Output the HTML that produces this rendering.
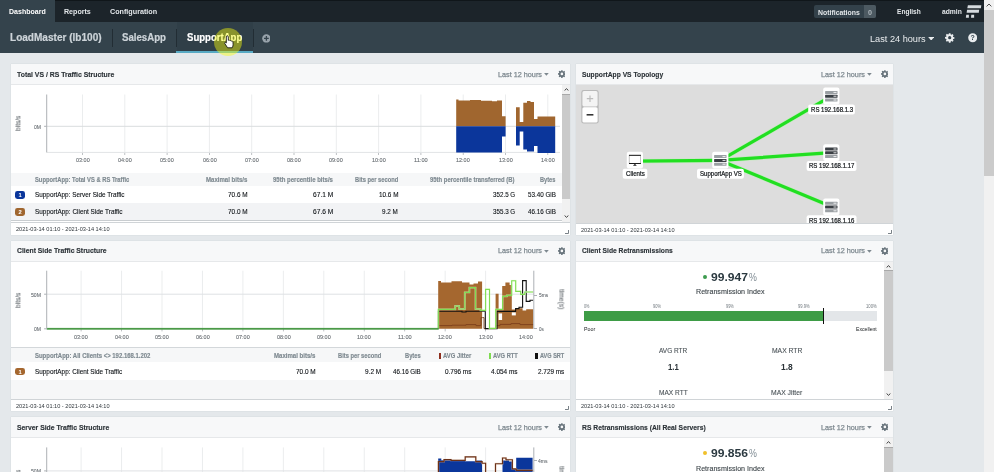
<!DOCTYPE html>
<html lang="en">
<head>
<meta charset="utf-8">
<title>SupportApp - Dashboard</title>
<style>
*{box-sizing:border-box;margin:0;padding:0}
html,body{width:994px;height:472px;overflow:hidden;background:#e4e8eb;font-family:"Liberation Sans",sans-serif;color:#2c3338}
body{position:relative}
.a{position:absolute;display:block}
.t{position:absolute;white-space:nowrap;line-height:1;display:block;filter:blur(.3px)}
.panel{position:absolute;background:#fff;overflow:hidden;box-shadow:0 0 1px rgba(60,70,80,.18)}
</style>
</head>
<body>
<div class="a" style="left:0.00px;top:0.00px;width:984.00px;height:22.00px;background:#1c242a;"></div>
<div class="a" style="left:0.00px;top:0.00px;width:984.00px;height:0.80px;background:#10161a;"></div>
<div class="a" style="left:0.00px;top:0.00px;width:55.00px;height:22.00px;background:#34434c;"></div>
<span class="t" style="left:8.70px;top:8.00px;font-size:7.80px;color:#ffffff;font-weight:bold;transform-origin:0 50%;transform:scaleX(0.9008);">Dashboard</span>
<span class="t" style="left:64.40px;top:8.00px;font-size:7.80px;color:#e3e7ea;font-weight:bold;transform-origin:0 50%;transform:scaleX(0.9093);">Reports</span>
<span class="t" style="left:110.30px;top:8.00px;font-size:7.80px;color:#e3e7ea;font-weight:bold;transform-origin:0 50%;transform:scaleX(0.9213);">Configuration</span>
<div class="a" style="left:813.50px;top:5.00px;width:62.50px;height:12.80px;background:#33414a;border-radius:2px"></div>
<div class="a" style="left:864.00px;top:5.00px;width:12.00px;height:12.80px;background:#4c5961;border-radius:0 2px 2px 0"></div>
<span class="t" style="left:817.70px;top:9.00px;font-size:7.80px;color:#e3e7ea;font-weight:bold;transform-origin:0 50%;transform:scaleX(0.8849);">Notifications</span>
<span class="t" style="left:867.80px;top:9.00px;font-size:7.80px;color:#aeb7bd;font-weight:bold;transform-origin:0 50%;transform:scaleX(0.9221);">0</span>
<span class="t" style="left:896.80px;top:8.00px;font-size:7.80px;color:#e3e7ea;font-weight:bold;transform-origin:0 50%;transform:scaleX(0.8414);">English</span>
<span class="t" style="left:941.50px;top:8.00px;font-size:7.80px;color:#e3e7ea;font-weight:bold;transform-origin:0 50%;transform:scaleX(0.8620);">admin</span>
<svg class="a" style="left:965px;top:4px" width="17" height="15" viewBox="965 4 17 15"><g fill="#d6dbdf"><path d="M967.9 5.2H981.3L980.9 8.2H967.3Z"/><path d="M967.1 9.7H979.2L978.8 12.7H966.6Z"/><path d="M966.2 14.7H968.9V17.7H965.9Z"/><path d="M971.3 14.7H974.1V17.7H971Z"/></g></svg>
<div class="a" style="left:0.00px;top:22.00px;width:984.00px;height:31.00px;background:#34434c;"></div>
<div class="a" style="left:177.00px;top:22.00px;width:76.00px;height:31.00px;background:#303f48;"></div>
<span class="t" style="left:10.10px;top:33.00px;font-size:10.30px;color:#cdd4d9;font-weight:bold;transform-origin:0 50%;transform:scaleX(0.9758);-webkit-text-stroke:0.2px #cdd4d9;">LoadMaster (lb100)</span>
<div class="a" style="left:112.00px;top:29.00px;width:1.00px;height:18.00px;background:#222d34;"></div>
<span class="t" style="left:122.30px;top:33.00px;font-size:10.30px;color:#cdd4d9;font-weight:bold;transform-origin:0 50%;transform:scaleX(0.9374);-webkit-text-stroke:0.2px #cdd4d9;">SalesApp</span>
<div class="a" style="left:176.40px;top:29.00px;width:1.00px;height:18.00px;background:#222d34;"></div>
<span class="t" style="left:187.10px;top:33.00px;font-size:10.30px;color:#ffffff;font-weight:bold;transform-origin:0 50%;transform:scaleX(0.9294);-webkit-text-stroke:0.2px #ffffff;">SupportApp</span>
<div class="a" style="left:176.40px;top:50.80px;width:76.60px;height:2.20px;background:#58aac4;"></div>
<div class="a" style="left:253.00px;top:29.00px;width:1.00px;height:18.00px;background:#222d34;"></div>
<svg class="a" style="left:261.6px;top:34.1px" width="8.8" height="8.8" viewBox="0 0 10 10"><circle cx="5" cy="5" r="4.8" fill="#98a3ab"/><path d="M5 2.3v5.4M2.3 5h5.4" stroke="#34434c" stroke-width="1.5"/></svg>
<span class="t" style="left:869.70px;top:34.00px;font-size:9.60px;color:#e9ecee;transform-origin:0 50%;transform:scaleX(0.9558);">Last 24 hours</span>
<svg class="a" style="left:928.00px;top:36.80px" width="6.40" height="3.60" viewBox="0 0 10 6"><path d="M0 0h10L5 6z" fill="#e9ecee"/></svg>
<svg class="a" style="left:945.20px;top:33.40px" width="9.40" height="9.40" viewBox="0 0 20 20"><path fill="#e9ecee" fill-rule="evenodd" d="M8.3 0.5h3.4l0.5 2.6 1.5 0.6 2.2-1.5 2.4 2.4-1.5 2.2 0.6 1.5 2.6 0.5v3.4l-2.6 0.5-0.6 1.5 1.5 2.2-2.4 2.4-2.2-1.5-1.5 0.6-0.5 2.6H8.3l-0.5-2.6-1.5-0.6-2.2 1.5-2.4-2.4 1.5-2.2-0.6-1.5L0 11.7V8.3l2.6-0.5 0.6-1.5-1.5-2.2 2.4-2.4 2.2 1.5 1.5-0.6zM10 6.6a3.4 3.4 0 1 0 0 6.8 3.4 3.4 0 0 0 0-6.8z"/></svg>
<svg class="a" style="left:967.8px;top:33.2px" width="9.4" height="9.4" viewBox="0 0 20 20"><circle cx="10" cy="10" r="9.6" fill="#e9ecee"/><text x="10" y="15.4" text-anchor="middle" font-family="Liberation Sans, sans-serif" font-weight="bold" font-size="15" fill="#34434c">?</text></svg>
<div class="a" style="left:214px;top:27.8px;width:28.4px;height:28.4px;border-radius:50%;background:rgba(250,255,10,.44);filter:blur(0.4px)"></div>
<svg class="a" style="left:224.3px;top:34.9px" width="10" height="13.7" viewBox="0 0 19 26"><path d="M6.2 1.5 C7.4 1.5 8.2 2.4 8.2 3.6 L8.2 10 L9.4 9.7 C10.4 9.5 11.2 9.9 11.6 10.7 C12.6 10.2 13.7 10.6 14.2 11.5 C15.5 11.1 16.8 11.9 17 13.4 L17.3 17.6 C17.4 20 16.8 22.3 15.5 24.3 L6.8 24.3 C4.9 21.4 3.2 18.7 1.5 16.1 C0.7 14.8 2.1 13.4 3.5 14.3 L4.4 15 L4.4 3.6 C4.4 2.4 5 1.5 6.2 1.5 Z" fill="#fff" stroke="#111" stroke-width="1.6" stroke-linejoin="round"/></svg>
<div class="a" style="left:984.00px;top:0.00px;width:10.00px;height:472.00px;background:#f1f1f1;"></div>
<div class="a" style="left:984.00px;top:10.00px;width:10.00px;height:165.50px;background:#cbcbcb;"></div>
<svg class="a" style="left:986px;top:3px" width="6" height="4" viewBox="0 0 6 4"><path d="M0.6 3.4L3 1L5.4 3.4" fill="none" stroke="#505050" stroke-width="1"/></svg>
<div class="panel" style="left:11px;top:64px;width:559px;height:171px"></div>
<div class="a" style="left:11.00px;top:64.00px;width:559.00px;height:21.00px;background:#f7f8f9;border-bottom:1px solid #e6e8ea"></div>
<span class="t" style="left:17.40px;top:71.00px;font-size:7.70px;color:#2c3338;font-weight:bold;transform-origin:0 50%;transform:scaleX(0.8939);-webkit-text-stroke:0.15px #2c3338;">Total VS / RS Traffic Structure</span>
<span class="t" style="left:497.60px;top:71.00px;font-size:7.70px;color:#7d888f;transform-origin:0 50%;transform:scaleX(0.9430);-webkit-text-stroke:0.25px #7d888f;">Last 12 hours</span>
<svg class="a" style="left:544.00px;top:73.00px" width="4.80" height="2.80" viewBox="0 0 10 6"><path d="M0 0h10L5 6z" fill="#7d888f"/></svg>
<svg class="a" style="left:557.60px;top:70.20px" width="7.80" height="7.80" viewBox="0 0 20 20"><path fill="#67737b" fill-rule="evenodd" d="M8.3 0.5h3.4l0.5 2.6 1.5 0.6 2.2-1.5 2.4 2.4-1.5 2.2 0.6 1.5 2.6 0.5v3.4l-2.6 0.5-0.6 1.5 1.5 2.2-2.4 2.4-2.2-1.5-1.5 0.6-0.5 2.6H8.3l-0.5-2.6-1.5-0.6-2.2 1.5-2.4-2.4 1.5-2.2-0.6-1.5L0 11.7V8.3l2.6-0.5 0.6-1.5-1.5-2.2 2.4-2.4 2.2 1.5 1.5-0.6zM10 6.6a3.4 3.4 0 1 0 0 6.8 3.4 3.4 0 0 0 0-6.8z"/></svg>
<svg class="a" style="left:11.00px;top:85.00px" width="551" height="88" viewBox="11.00 85.00 551 88">
<rect x="82.00" y="94.50" width="1.00" height="57.90" fill="#ebedee"/>
<rect x="82.10" y="152.40" width="0.80" height="2.60" fill="#adb1b5"/>
<rect x="124.30" y="94.50" width="1.00" height="57.90" fill="#ebedee"/>
<rect x="124.40" y="152.40" width="0.80" height="2.60" fill="#adb1b5"/>
<rect x="166.60" y="94.50" width="1.00" height="57.90" fill="#ebedee"/>
<rect x="166.70" y="152.40" width="0.80" height="2.60" fill="#adb1b5"/>
<rect x="208.90" y="94.50" width="1.00" height="57.90" fill="#ebedee"/>
<rect x="209.00" y="152.40" width="0.80" height="2.60" fill="#adb1b5"/>
<rect x="251.20" y="94.50" width="1.00" height="57.90" fill="#ebedee"/>
<rect x="251.30" y="152.40" width="0.80" height="2.60" fill="#adb1b5"/>
<rect x="293.50" y="94.50" width="1.00" height="57.90" fill="#ebedee"/>
<rect x="293.60" y="152.40" width="0.80" height="2.60" fill="#adb1b5"/>
<rect x="335.80" y="94.50" width="1.00" height="57.90" fill="#ebedee"/>
<rect x="335.90" y="152.40" width="0.80" height="2.60" fill="#adb1b5"/>
<rect x="378.10" y="94.50" width="1.00" height="57.90" fill="#ebedee"/>
<rect x="378.20" y="152.40" width="0.80" height="2.60" fill="#adb1b5"/>
<rect x="420.40" y="94.50" width="1.00" height="57.90" fill="#ebedee"/>
<rect x="420.50" y="152.40" width="0.80" height="2.60" fill="#adb1b5"/>
<rect x="462.70" y="94.50" width="1.00" height="57.90" fill="#ebedee"/>
<rect x="462.80" y="152.40" width="0.80" height="2.60" fill="#adb1b5"/>
<rect x="505.00" y="94.50" width="1.00" height="57.90" fill="#ebedee"/>
<rect x="505.10" y="152.40" width="0.80" height="2.60" fill="#adb1b5"/>
<rect x="547.30" y="94.50" width="1.00" height="57.90" fill="#ebedee"/>
<rect x="547.40" y="152.40" width="0.80" height="2.60" fill="#adb1b5"/>
<rect x="46.70" y="125.80" width="513.30" height="1.00" fill="#d9dcde"/>
<rect x="46.70" y="151.90" width="513.30" height="1.00" fill="#e2e4e6"/>
<polygon points="456.2,126.3 456.2,99.6 458.5,99.6 458.5,100.4 470.0,100.4 470.0,100.0 481.0,100.0 481.0,100.8 492.0,100.8 492.0,101.2 497.0,101.2 497.0,100.4 502.0,100.4 502.0,116.2 505.6,116.2 505.6,126.3 516.0,126.3 516.0,107.3 519.7,107.3 519.7,122.0 523.3,122.0 523.3,102.8 527.0,102.8 527.0,101.0 530.5,101.0 530.5,102.0 534.0,102.0 534.0,119.0 537.5,119.0 537.5,116.6 555.2,116.6 555.2,126.3" fill="#a0662f" />
<polygon points="456.2,126.3 456.2,152.6 502.0,152.6 502.0,136.4 505.6,136.4 505.6,126.3 516.0,126.3 516.0,145.6 519.7,145.6 519.7,131.6 523.3,131.6 523.3,149.5 527.0,149.5 527.0,151.5 534.0,151.5 534.0,146.0 537.5,146.0 537.5,153.0 555.2,153.0 555.2,126.3" fill="#0b369b" />
<rect x="46.20" y="94.50" width="1.00" height="57.90" fill="#adb1b5"/>
<rect x="44.10" y="125.80" width="2.60" height="1.00" fill="#adb1b5"/>
</svg>
<span class="t" style="left:34.20px;top:125.00px;font-size:5.90px;color:#666c71;transform-origin:0 50%;transform:scaleX(0.8540);-webkit-text-stroke:0.1px #666c71;">0M</span>
<span class="t" style="left:11.30px;top:120.00px;font-size:6.60px;color:#666c71;transform-origin:50% 50%;transform:rotate(-90deg);-webkit-text-stroke:0.1px #666c71;">bits/s</span>
<span class="t" style="left:75.65px;top:158.00px;font-size:5.90px;color:#666c71;transform-origin:0 50%;transform:scaleX(0.9279);-webkit-text-stroke:0.1px #666c71;">03:00</span>
<span class="t" style="left:117.95px;top:158.00px;font-size:5.90px;color:#666c71;transform-origin:0 50%;transform:scaleX(0.9279);-webkit-text-stroke:0.1px #666c71;">04:00</span>
<span class="t" style="left:160.25px;top:158.00px;font-size:5.90px;color:#666c71;transform-origin:0 50%;transform:scaleX(0.9279);-webkit-text-stroke:0.1px #666c71;">05:00</span>
<span class="t" style="left:202.55px;top:158.00px;font-size:5.90px;color:#666c71;transform-origin:0 50%;transform:scaleX(0.9279);-webkit-text-stroke:0.1px #666c71;">06:00</span>
<span class="t" style="left:244.85px;top:158.00px;font-size:5.90px;color:#666c71;transform-origin:0 50%;transform:scaleX(0.9279);-webkit-text-stroke:0.1px #666c71;">07:00</span>
<span class="t" style="left:287.15px;top:158.00px;font-size:5.90px;color:#666c71;transform-origin:0 50%;transform:scaleX(0.9279);-webkit-text-stroke:0.1px #666c71;">08:00</span>
<span class="t" style="left:329.45px;top:158.00px;font-size:5.90px;color:#666c71;transform-origin:0 50%;transform:scaleX(0.9279);-webkit-text-stroke:0.1px #666c71;">09:00</span>
<span class="t" style="left:371.75px;top:158.00px;font-size:5.90px;color:#666c71;transform-origin:0 50%;transform:scaleX(0.9279);-webkit-text-stroke:0.1px #666c71;">10:00</span>
<span class="t" style="left:414.05px;top:158.00px;font-size:5.90px;color:#666c71;transform-origin:0 50%;transform:scaleX(0.9562);-webkit-text-stroke:0.1px #666c71;">11:00</span>
<span class="t" style="left:456.35px;top:158.00px;font-size:5.90px;color:#666c71;transform-origin:0 50%;transform:scaleX(0.9279);-webkit-text-stroke:0.1px #666c71;">12:00</span>
<span class="t" style="left:498.65px;top:158.00px;font-size:5.90px;color:#666c71;transform-origin:0 50%;transform:scaleX(0.9279);-webkit-text-stroke:0.1px #666c71;">13:00</span>
<span class="t" style="left:540.95px;top:158.00px;font-size:5.90px;color:#666c71;transform-origin:0 50%;transform:scaleX(0.9279);-webkit-text-stroke:0.1px #666c71;">14:00</span>
<div class="a" style="left:11.00px;top:173.00px;width:551.00px;height:13.00px;background:#f6f7f8;"></div>
<span class="t" style="left:34.60px;top:176.00px;font-size:7.00px;color:#7f8a91;font-weight:bold;transform-origin:0 50%;transform:scaleX(0.8285);-webkit-text-stroke:0.18px #7f8a91;">SupportApp: Total VS &amp; RS Traffic</span>
<span class="t" style="left:206.10px;top:176.00px;font-size:7.00px;color:#7f8a91;font-weight:bold;transform-origin:0 50%;transform:scaleX(0.8631);-webkit-text-stroke:0.18px #7f8a91;">Maximal bits/s</span>
<span class="t" style="left:273.10px;top:176.00px;font-size:7.00px;color:#7f8a91;font-weight:bold;transform-origin:0 50%;transform:scaleX(0.8602);-webkit-text-stroke:0.18px #7f8a91;">95th percentile bits/s</span>
<span class="t" style="left:355.00px;top:176.00px;font-size:7.00px;color:#7f8a91;font-weight:bold;transform-origin:0 50%;transform:scaleX(0.8226);-webkit-text-stroke:0.18px #7f8a91;">Bits per second</span>
<span class="t" style="left:430.30px;top:176.00px;font-size:7.00px;color:#7f8a91;font-weight:bold;transform-origin:0 50%;transform:scaleX(0.8462);-webkit-text-stroke:0.18px #7f8a91;">95th percentile transferred (B)</span>
<span class="t" style="left:540.40px;top:176.00px;font-size:7.00px;color:#7f8a91;font-weight:bold;transform-origin:0 50%;transform:scaleX(0.8077);-webkit-text-stroke:0.18px #7f8a91;">Bytes</span>
<div class="a" style="left:11.00px;top:186.00px;width:551.00px;height:17.00px;background:#ffffff;"></div>
<div class="a" style="left:11.00px;top:203.00px;width:551.00px;height:17.00px;background:#f2f3f5;"></div>
<div class="a" style="left:15.10px;top:190.70px;width:10.20px;height:8.20px;background:#0b369b;border-radius:2.4px"></div>
<span class="t" style="left:18.59px;top:193.00px;font-size:5.80px;color:#ffffff;font-weight:bold;">1</span>
<div class="a" style="left:15.10px;top:207.70px;width:10.20px;height:8.20px;background:#a0662f;border-radius:2.4px"></div>
<span class="t" style="left:18.59px;top:210.00px;font-size:5.80px;color:#ffffff;font-weight:bold;">2</span>
<span class="t" style="left:34.60px;top:192.00px;font-size:7.10px;color:#101418;transform-origin:0 50%;transform:scaleX(0.8985);-webkit-text-stroke:0.12px #101418;">SupportApp: Server Side Traffic</span>
<span class="t" style="left:34.60px;top:209.00px;font-size:7.10px;color:#101418;transform-origin:0 50%;transform:scaleX(0.9035);-webkit-text-stroke:0.12px #101418;">SupportApp: Client Side Traffic</span>
<span class="t" style="left:227.80px;top:192.00px;font-size:7.10px;color:#101418;transform-origin:0 50%;transform:scaleX(0.9030);-webkit-text-stroke:0.12px #101418;">70.6 M</span>
<span class="t" style="left:312.70px;top:192.00px;font-size:7.10px;color:#101418;transform-origin:0 50%;transform:scaleX(0.9352);-webkit-text-stroke:0.12px #101418;">67.1 M</span>
<span class="t" style="left:378.70px;top:192.00px;font-size:7.10px;color:#101418;transform-origin:0 50%;transform:scaleX(0.8984);-webkit-text-stroke:0.12px #101418;">10.6 M</span>
<span class="t" style="left:492.70px;top:192.00px;font-size:7.10px;color:#101418;transform-origin:0 50%;transform:scaleX(0.8788);-webkit-text-stroke:0.12px #101418;">352.5 G</span>
<span class="t" style="left:527.90px;top:192.00px;font-size:7.10px;color:#101418;transform-origin:0 50%;transform:scaleX(0.8836);-webkit-text-stroke:0.12px #101418;">53.40 GiB</span>
<span class="t" style="left:227.80px;top:209.00px;font-size:7.10px;color:#101418;transform-origin:0 50%;transform:scaleX(0.9030);-webkit-text-stroke:0.12px #101418;">70.0 M</span>
<span class="t" style="left:312.70px;top:209.00px;font-size:7.10px;color:#101418;transform-origin:0 50%;transform:scaleX(0.9352);-webkit-text-stroke:0.12px #101418;">67.6 M</span>
<span class="t" style="left:382.40px;top:209.00px;font-size:7.10px;color:#101418;transform-origin:0 50%;transform:scaleX(0.8898);-webkit-text-stroke:0.12px #101418;">9.2 M</span>
<span class="t" style="left:492.70px;top:209.00px;font-size:7.10px;color:#101418;transform-origin:0 50%;transform:scaleX(0.8788);-webkit-text-stroke:0.12px #101418;">355.3 G</span>
<span class="t" style="left:527.90px;top:209.00px;font-size:7.10px;color:#101418;transform-origin:0 50%;transform:scaleX(0.8836);-webkit-text-stroke:0.12px #101418;">46.16 GiB</span>
<div class="a" style="left:11.00px;top:219.60px;width:559.00px;height:1.00px;background:#c9cdd0;"></div>
<div class="a" style="left:562.00px;top:85.00px;width:8.00px;height:136.50px;background:#f1f1f1;"></div>
<div class="a" style="left:562.00px;top:93.50px;width:8.00px;height:105.50px;background:#cacaca;"></div>
<div class="a" style="left:562.00px;top:93.50px;width:8.00px;height:0.70px;background:#a9a9a9;"></div>
<svg class="a" style="left:563.5px;top:88.2px" width="5" height="3" viewBox="0 0 5 3"><path d="M0.6 2.5L2.5 0.7L4.4 2.5" fill="none" stroke="#3c3c3c" stroke-width="1"/></svg>
<svg class="a" style="left:563.5px;top:215.3px" width="5" height="3" viewBox="0 0 5 3"><path d="M0.6 0.5L2.5 2.3L4.4 0.5" fill="none" stroke="#3c3c3c" stroke-width="1"/></svg>
<div class="a" style="left:11.00px;top:222.00px;width:559.00px;height:13.00px;background:#ffffff;border-top:1px solid #d0d4d7"></div>
<span class="t" style="left:16.10px;top:226.00px;font-size:6.10px;color:#30373c;transform-origin:0 50%;transform:scaleX(0.9209);">2021-03-14 01:10 - 2021-03-14 14:10</span>
<svg class="a" style="left:564.5px;top:229.5px" width="4" height="4" viewBox="0 0 4 4"><path d="M3.5 0V3.5H0" fill="none" stroke="#7a8288" stroke-width="1"/></svg>
<div class="panel" style="left:576px;top:64px;width:317px;height:171px"></div>
<div class="a" style="left:576.00px;top:64.00px;width:317.00px;height:21.00px;background:#f7f8f9;border-bottom:1px solid #e6e8ea"></div>
<span class="t" style="left:582.40px;top:71.00px;font-size:7.70px;color:#2c3338;font-weight:bold;transform-origin:0 50%;transform:scaleX(0.8732);-webkit-text-stroke:0.15px #2c3338;">SupportApp VS Topology</span>
<span class="t" style="left:820.60px;top:71.00px;font-size:7.70px;color:#7d888f;transform-origin:0 50%;transform:scaleX(0.9430);-webkit-text-stroke:0.25px #7d888f;">Last 12 hours</span>
<svg class="a" style="left:867.00px;top:73.00px" width="4.80" height="2.80" viewBox="0 0 10 6"><path d="M0 0h10L5 6z" fill="#7d888f"/></svg>
<svg class="a" style="left:880.60px;top:70.20px" width="7.80" height="7.80" viewBox="0 0 20 20"><path fill="#67737b" fill-rule="evenodd" d="M8.3 0.5h3.4l0.5 2.6 1.5 0.6 2.2-1.5 2.4 2.4-1.5 2.2 0.6 1.5 2.6 0.5v3.4l-2.6 0.5-0.6 1.5 1.5 2.2-2.4 2.4-2.2-1.5-1.5 0.6-0.5 2.6H8.3l-0.5-2.6-1.5-0.6-2.2 1.5-2.4-2.4 1.5-2.2-0.6-1.5L0 11.7V8.3l2.6-0.5 0.6-1.5-1.5-2.2 2.4-2.4 2.2 1.5 1.5-0.6zM10 6.6a3.4 3.4 0 1 0 0 6.8 3.4 3.4 0 0 0 0-6.8z"/></svg>
<svg class="a" style="left:576.00px;top:85.00px" width="317" height="138" viewBox="576.00 85.00 317 138">
<rect x="576" y="85" width="317" height="138" fill="#dddddd"/>
<line x1="720.3" y1="160.4" x2="634.9" y2="161.2" stroke="#b9f0b0" stroke-width="4.6" stroke-linecap="round" opacity="0.55"/>
<line x1="720.3" y1="160.4" x2="634.9" y2="161.2" stroke="#21df21" stroke-width="3.2" stroke-linecap="round"/>
<line x1="720.3" y1="160.4" x2="831.3" y2="96.2" stroke="#b9f0b0" stroke-width="4.6" stroke-linecap="round" opacity="0.55"/>
<line x1="720.3" y1="160.4" x2="831.3" y2="96.2" stroke="#21df21" stroke-width="3.2" stroke-linecap="round"/>
<line x1="720.3" y1="160.4" x2="831.3" y2="152.6" stroke="#b9f0b0" stroke-width="4.6" stroke-linecap="round" opacity="0.55"/>
<line x1="720.3" y1="160.4" x2="831.3" y2="152.6" stroke="#21df21" stroke-width="3.2" stroke-linecap="round"/>
<line x1="720.3" y1="160.4" x2="831.3" y2="206.6" stroke="#b9f0b0" stroke-width="4.6" stroke-linecap="round" opacity="0.55"/>
<line x1="720.3" y1="160.4" x2="831.3" y2="206.6" stroke="#21df21" stroke-width="3.2" stroke-linecap="round"/>
<rect x="626.8" y="151.8" width="16.2" height="16.8" rx="2" fill="#ffffff"/>
<rect x="629.1" y="155.3" width="11.7" height="8.2" fill="none" stroke="#555" stroke-width="0.35"/>
<rect x="629.0" y="154.8" width="11.9" height="1" fill="#1c1c1c"/>
<rect x="629.0" y="163.0" width="11.9" height="1" fill="#1c1c1c"/>
<path d="M634.9 163.8L636.8 165.7L633.0 165.7Z" fill="#1c1c1c"/>
<rect x="622.7" y="168.8" width="24.6" height="10.0" rx="2" fill="#ffffff"/>
<rect x="712.2" y="151.8" width="16.2" height="16.8" rx="2" fill="#ffffff"/>
<rect x="714.1" y="155.1" width="12.4" height="3" rx="0.5" fill="#9a9fa3"/>
<rect x="714.1" y="158.9" width="12.4" height="3" rx="0.5" fill="#3a3f44"/>
<rect x="714.1" y="162.7" width="12.4" height="3" rx="0.5" fill="#9a9fa3"/>
<rect x="722.5" y="156.1" width="3" height="1" fill="#ffffff" opacity="0.85"/>
<rect x="722.5" y="159.9" width="3" height="1" fill="#ffffff" opacity="0.85"/>
<rect x="722.5" y="163.7" width="3" height="1" fill="#ffffff" opacity="0.85"/>
<rect x="697.0" y="168.8" width="46.9" height="10.0" rx="2" fill="#ffffff"/>
<rect x="823.2" y="87.6" width="16.2" height="16.8" rx="2" fill="#ffffff"/>
<rect x="825.1" y="90.9" width="12.4" height="3" rx="0.5" fill="#9a9fa3"/>
<rect x="825.1" y="94.7" width="12.4" height="3" rx="0.5" fill="#3a3f44"/>
<rect x="825.1" y="98.5" width="12.4" height="3" rx="0.5" fill="#9a9fa3"/>
<rect x="833.5" y="91.9" width="3" height="1" fill="#ffffff" opacity="0.85"/>
<rect x="833.5" y="95.7" width="3" height="1" fill="#ffffff" opacity="0.85"/>
<rect x="833.5" y="99.5" width="3" height="1" fill="#ffffff" opacity="0.85"/>
<rect x="808.2" y="104.5" width="46.7" height="10.0" rx="2" fill="#ffffff"/>
<rect x="823.2" y="144.2" width="16.2" height="16.8" rx="2" fill="#ffffff"/>
<rect x="825.1" y="147.5" width="12.4" height="3" rx="0.5" fill="#3a3f44"/>
<rect x="825.1" y="151.3" width="12.4" height="3" rx="0.5" fill="#3a3f44"/>
<rect x="825.1" y="155.1" width="12.4" height="3" rx="0.5" fill="#9a9fa3"/>
<rect x="833.5" y="148.5" width="3" height="1" fill="#ffffff" opacity="0.85"/>
<rect x="833.5" y="152.3" width="3" height="1" fill="#ffffff" opacity="0.85"/>
<rect x="833.5" y="156.1" width="3" height="1" fill="#ffffff" opacity="0.85"/>
<rect x="806.6" y="160.9" width="49.9" height="10.0" rx="2" fill="#ffffff"/>
<rect x="823.2" y="198.4" width="16.2" height="16.8" rx="2" fill="#ffffff"/>
<rect x="825.1" y="201.7" width="12.4" height="3" rx="0.5" fill="#9a9fa3"/>
<rect x="825.1" y="205.5" width="12.4" height="3" rx="0.5" fill="#3a3f44"/>
<rect x="825.1" y="209.3" width="12.4" height="3" rx="0.5" fill="#9a9fa3"/>
<rect x="833.5" y="202.7" width="3" height="1" fill="#ffffff" opacity="0.85"/>
<rect x="833.5" y="206.5" width="3" height="1" fill="#ffffff" opacity="0.85"/>
<rect x="833.5" y="210.3" width="3" height="1" fill="#ffffff" opacity="0.85"/>
<rect x="806.6" y="215.2" width="49.9" height="10.0" rx="2" fill="#ffffff"/>
<rect x="581.3" y="90" width="17.4" height="33.6" rx="2.4" fill="#b9b9b9"/>
<rect x="582.4" y="91.1" width="15.2" height="15.3" rx="1.6" fill="#f4f4f4"/>
<rect x="582.4" y="107.2" width="15.2" height="15.3" rx="1.6" fill="#ffffff"/>
<path d="M586.8 98.700h6.4M590 95.500v6.4" stroke="#bdbdbd" stroke-width="1.2" fill="none"/>
<path d="M586.6 114.800h6.8" stroke="#2a2a2a" stroke-width="1.5" fill="none"/>
</svg>
<span class="t" style="left:625.60px;top:171.00px;font-size:6.60px;color:#14181b;transform-origin:0 50%;transform:scaleX(0.9269);-webkit-text-stroke:0.22px #14181b;">Clients</span>
<span class="t" style="left:699.60px;top:171.00px;font-size:6.60px;color:#14181b;transform-origin:0 50%;transform:scaleX(0.9187);-webkit-text-stroke:0.22px #14181b;">SupportApp VS</span>
<span class="t" style="left:810.70px;top:107.00px;font-size:6.60px;color:#14181b;transform-origin:0 50%;transform:scaleX(0.9200);-webkit-text-stroke:0.22px #14181b;">RS 192.168.1.3</span>
<span class="t" style="left:809.00px;top:163.00px;font-size:6.60px;color:#14181b;transform-origin:0 50%;transform:scaleX(0.9185);-webkit-text-stroke:0.22px #14181b;">RS 192.168.1.17</span>
<span class="t" style="left:809.00px;top:218.00px;font-size:6.60px;color:#14181b;transform-origin:0 50%;transform:scaleX(0.9185);-webkit-text-stroke:0.22px #14181b;">RS 192.168.1.16</span>
<div class="a" style="left:576.00px;top:222.60px;width:317.00px;height:12.40px;background:#ffffff;border-top:1px solid #d0d4d7"></div>
<span class="t" style="left:581.10px;top:227.00px;font-size:6.10px;color:#30373c;transform-origin:0 50%;transform:scaleX(0.9209);">2021-03-14 01:10 - 2021-03-14 14:10</span>
<svg class="a" style="left:887.5px;top:229.5px" width="4" height="4" viewBox="0 0 4 4"><path d="M3.5 0V3.5H0" fill="none" stroke="#7a8288" stroke-width="1"/></svg>
<div class="panel" style="left:11px;top:241px;width:559px;height:170px"></div>
<div class="a" style="left:11.00px;top:241.00px;width:559.00px;height:21.00px;background:#f7f8f9;border-bottom:1px solid #e6e8ea"></div>
<span class="t" style="left:17.40px;top:247.00px;font-size:7.70px;color:#2c3338;font-weight:bold;transform-origin:0 50%;transform:scaleX(0.8846);-webkit-text-stroke:0.15px #2c3338;">Client Side Traffic Structure</span>
<span class="t" style="left:497.60px;top:247.00px;font-size:7.70px;color:#7d888f;transform-origin:0 50%;transform:scaleX(0.9430);-webkit-text-stroke:0.25px #7d888f;">Last 12 hours</span>
<svg class="a" style="left:544.00px;top:250.00px" width="4.80" height="2.80" viewBox="0 0 10 6"><path d="M0 0h10L5 6z" fill="#7d888f"/></svg>
<svg class="a" style="left:557.60px;top:247.20px" width="7.80" height="7.80" viewBox="0 0 20 20"><path fill="#67737b" fill-rule="evenodd" d="M8.3 0.5h3.4l0.5 2.6 1.5 0.6 2.2-1.5 2.4 2.4-1.5 2.2 0.6 1.5 2.6 0.5v3.4l-2.6 0.5-0.6 1.5 1.5 2.2-2.4 2.4-2.2-1.5-1.5 0.6-0.5 2.6H8.3l-0.5-2.6-1.5-0.6-2.2 1.5-2.4-2.4 1.5-2.2-0.6-1.5L0 11.7V8.3l2.6-0.5 0.6-1.5-1.5-2.2 2.4-2.4 2.2 1.5 1.5-0.6zM10 6.6a3.4 3.4 0 1 0 0 6.8 3.4 3.4 0 0 0 0-6.8z"/></svg>
<svg class="a" style="left:11.00px;top:261.00px" width="559" height="80" viewBox="11.00 261.00 559 80">
<rect x="80.60" y="270.70" width="1.00" height="58.10" fill="#ebedee"/>
<rect x="80.70" y="328.80" width="0.80" height="2.60" fill="#adb1b5"/>
<rect x="121.05" y="270.70" width="1.00" height="58.10" fill="#ebedee"/>
<rect x="121.15" y="328.80" width="0.80" height="2.60" fill="#adb1b5"/>
<rect x="161.50" y="270.70" width="1.00" height="58.10" fill="#ebedee"/>
<rect x="161.60" y="328.80" width="0.80" height="2.60" fill="#adb1b5"/>
<rect x="201.95" y="270.70" width="1.00" height="58.10" fill="#ebedee"/>
<rect x="202.05" y="328.80" width="0.80" height="2.60" fill="#adb1b5"/>
<rect x="242.40" y="270.70" width="1.00" height="58.10" fill="#ebedee"/>
<rect x="242.50" y="328.80" width="0.80" height="2.60" fill="#adb1b5"/>
<rect x="282.85" y="270.70" width="1.00" height="58.10" fill="#ebedee"/>
<rect x="282.95" y="328.80" width="0.80" height="2.60" fill="#adb1b5"/>
<rect x="323.30" y="270.70" width="1.00" height="58.10" fill="#ebedee"/>
<rect x="323.40" y="328.80" width="0.80" height="2.60" fill="#adb1b5"/>
<rect x="363.75" y="270.70" width="1.00" height="58.10" fill="#ebedee"/>
<rect x="363.85" y="328.80" width="0.80" height="2.60" fill="#adb1b5"/>
<rect x="404.20" y="270.70" width="1.00" height="58.10" fill="#ebedee"/>
<rect x="404.30" y="328.80" width="0.80" height="2.60" fill="#adb1b5"/>
<rect x="444.65" y="270.70" width="1.00" height="58.10" fill="#ebedee"/>
<rect x="444.75" y="328.80" width="0.80" height="2.60" fill="#adb1b5"/>
<rect x="485.10" y="270.70" width="1.00" height="58.10" fill="#ebedee"/>
<rect x="485.20" y="328.80" width="0.80" height="2.60" fill="#adb1b5"/>
<rect x="46.70" y="293.70" width="487.10" height="1.00" fill="#dfe2e4"/>
<polygon points="438.2,328.8 438.2,281.0 441.0,281.0 441.0,282.6 451.5,282.6 451.5,281.2 462.0,281.2 462.0,282.4 469.5,282.4 469.5,284.6 473.5,284.6 473.5,283.4 478.0,283.4 478.0,281.6 482.1,281.6 482.1,328.8 495.6,328.8 495.6,293.8 498.6,293.8 498.6,309.0 502.2,309.0 502.2,286.0 505.4,286.0 505.4,282.4 509.6,282.4 509.6,285.0 511.8,285.0 511.8,309.6 515.8,309.6 515.8,308.2 522.6,308.2 522.6,310.4 526.2,310.4 526.2,309.2 533.2,309.2 533.2,328.8" fill="#a5672f" />
<rect x="498.6" y="313.4" width="3.500" height="6.600" fill="#ffffff"/>
<rect x="511.8" y="312.4" width="4" height="3" fill="#ffffff"/>
<polyline points="438.2,325.6 452.0,325.6 452.0,325.2 466.0,325.2 466.0,324.6 476.0,324.6 476.0,325.6 481.0,325.6 481.0,317.6 482.4,317.6 482.4,317.6 484.0,317.6 484.0,328.6 485.4,328.6 485.4,328.6 495.6,328.6 495.6,325.6 500.0,325.6 500.0,324.4 511.0,324.4 511.0,323.6 520.0,323.6 520.0,324.6 533.2,324.6" fill="none" stroke="#7d3f1c" stroke-width="0.9" stroke-linejoin="miter" />
<polyline points="438.4,328.8 438.4,328.8 438.4,311.2 462.0,311.2 462.0,312.0 466.0,312.0 466.0,311.2 485.3,311.2 485.3,328.6 495.6,328.6 495.6,328.6 497.0,328.6 497.0,311.4 515.6,311.4 515.6,308.6 519.0,308.6 519.0,307.2 522.6,307.2 522.6,280.6 526.2,280.6 526.2,301.4 530.0,301.4 530.0,300.2 533.2,300.2" fill="none" stroke="#111111" stroke-width="1.1" stroke-linejoin="miter" />
<polyline points="438.3,328.8 438.3,328.8 438.3,309.4 455.2,309.4 455.2,306.0 459.2,306.0 459.2,309.0 464.8,309.0 464.8,292.4 469.4,292.4 469.4,287.6 475.5,287.6 475.5,309.0 480.5,309.0 480.5,310.4 485.6,310.4 485.6,289.4 489.5,289.4 489.5,328.4 495.7,328.4 495.7,309.4 502.6,309.4 502.6,296.4 506.8,296.4 506.8,295.4 511.7,295.4 511.7,280.8 515.7,280.8 515.7,291.4 520.7,291.4 520.7,294.4 524.8,294.4 524.8,292.0 533.2,292.0" fill="none" stroke="#e9ffd9" stroke-width="1.9" stroke-linejoin="miter" opacity="0.6"/>
<polyline points="438.3,328.8 438.3,328.8 438.3,309.4 455.2,309.4 455.2,306.0 459.2,306.0 459.2,309.0 464.8,309.0 464.8,292.4 469.4,292.4 469.4,287.6 475.5,287.6 475.5,309.0 480.5,309.0 480.5,310.4 485.6,310.4 485.6,289.4 489.5,289.4 489.5,328.4 495.7,328.4 495.7,309.4 502.6,309.4 502.6,296.4 506.8,296.4 506.8,295.4 511.7,295.4 511.7,280.8 515.7,280.8 515.7,291.4 520.7,291.4 520.7,294.4 524.8,294.4 524.8,292.0 533.2,292.0" fill="none" stroke="#7fdc52" stroke-width="1.1" stroke-linejoin="miter" />
<rect x="46.7" y="327.9" width="392" height="1.800" fill="#4b9a48"/>
<rect x="46.20" y="270.70" width="1.00" height="58.10" fill="#adb1b5"/>
<rect x="533.30" y="270.70" width="1.00" height="58.10" fill="#adb1b5"/>
<rect x="44.10" y="293.70" width="2.60" height="1.00" fill="#adb1b5"/>
<rect x="44.10" y="328.30" width="2.60" height="1.00" fill="#adb1b5"/>
</svg>
<span class="t" style="left:31.20px;top:293.00px;font-size:5.90px;color:#666c71;transform-origin:0 50%;transform:scaleX(0.8712);-webkit-text-stroke:0.1px #666c71;">50M</span>
<span class="t" style="left:34.20px;top:327.00px;font-size:5.90px;color:#666c71;transform-origin:0 50%;transform:scaleX(0.8540);-webkit-text-stroke:0.1px #666c71;">0M</span>
<span class="t" style="left:11.30px;top:297.00px;font-size:6.60px;color:#666c71;transform-origin:50% 50%;transform:rotate(-90deg);-webkit-text-stroke:0.1px #666c71;">bits/s</span>
<span class="t" style="left:551.12px;top:296.40px;font-size:6.60px;color:#666c71;transform-origin:50% 50%;transform:rotate(90deg);-webkit-text-stroke:0.1px #666c71;">time(s)</span>
<span class="t" style="left:74.25px;top:335.00px;font-size:5.90px;color:#666c71;transform-origin:0 50%;transform:scaleX(0.9279);-webkit-text-stroke:0.1px #666c71;">03:00</span>
<span class="t" style="left:114.70px;top:335.00px;font-size:5.90px;color:#666c71;transform-origin:0 50%;transform:scaleX(0.9279);-webkit-text-stroke:0.1px #666c71;">04:00</span>
<span class="t" style="left:155.15px;top:335.00px;font-size:5.90px;color:#666c71;transform-origin:0 50%;transform:scaleX(0.9279);-webkit-text-stroke:0.1px #666c71;">05:00</span>
<span class="t" style="left:195.60px;top:335.00px;font-size:5.90px;color:#666c71;transform-origin:0 50%;transform:scaleX(0.9279);-webkit-text-stroke:0.1px #666c71;">06:00</span>
<span class="t" style="left:236.05px;top:335.00px;font-size:5.90px;color:#666c71;transform-origin:0 50%;transform:scaleX(0.9279);-webkit-text-stroke:0.1px #666c71;">07:00</span>
<span class="t" style="left:276.50px;top:335.00px;font-size:5.90px;color:#666c71;transform-origin:0 50%;transform:scaleX(0.9279);-webkit-text-stroke:0.1px #666c71;">08:00</span>
<span class="t" style="left:316.95px;top:335.00px;font-size:5.90px;color:#666c71;transform-origin:0 50%;transform:scaleX(0.9279);-webkit-text-stroke:0.1px #666c71;">09:00</span>
<span class="t" style="left:357.40px;top:335.00px;font-size:5.90px;color:#666c71;transform-origin:0 50%;transform:scaleX(0.9279);-webkit-text-stroke:0.1px #666c71;">10:00</span>
<span class="t" style="left:397.85px;top:335.00px;font-size:5.90px;color:#666c71;transform-origin:0 50%;transform:scaleX(0.9562);-webkit-text-stroke:0.1px #666c71;">11:00</span>
<span class="t" style="left:438.30px;top:335.00px;font-size:5.90px;color:#666c71;transform-origin:0 50%;transform:scaleX(0.9279);-webkit-text-stroke:0.1px #666c71;">12:00</span>
<span class="t" style="left:478.75px;top:335.00px;font-size:5.90px;color:#666c71;transform-origin:0 50%;transform:scaleX(0.9279);-webkit-text-stroke:0.1px #666c71;">13:00</span>
<span class="t" style="left:519.20px;top:335.00px;font-size:5.90px;color:#666c71;transform-origin:0 50%;transform:scaleX(0.9279);-webkit-text-stroke:0.1px #666c71;">14:00</span>
<div class="a" style="left:533.80px;top:294.80px;width:2.80px;height:0.80px;background:#adb1b5;"></div>
<div class="a" style="left:533.80px;top:328.40px;width:2.80px;height:0.80px;background:#adb1b5;"></div>
<span class="t" style="left:538.80px;top:293.00px;font-size:5.90px;color:#666c71;transform-origin:0 50%;transform:scaleX(0.8254);-webkit-text-stroke:0.1px #666c71;">5ms</span>
<span class="t" style="left:538.80px;top:327.00px;font-size:5.90px;color:#666c71;transform-origin:0 50%;transform:scaleX(0.7703);-webkit-text-stroke:0.1px #666c71;">0s</span>
<div class="a" style="left:11.00px;top:347.20px;width:559.00px;height:15.60px;background:#f6f7f8;border-top:1px solid #d3d7da;border-bottom:1px solid #d9dcdf"></div>
<span class="t" style="left:34.60px;top:352.00px;font-size:7.00px;color:#7f8a91;font-weight:bold;transform-origin:0 50%;transform:scaleX(0.8516);-webkit-text-stroke:0.18px #7f8a91;">SupportApp: All Clients &lt;&gt; 192.168.1.202</span>
<span class="t" style="left:273.90px;top:352.00px;font-size:7.00px;color:#7f8a91;font-weight:bold;transform-origin:0 50%;transform:scaleX(0.8652);-webkit-text-stroke:0.18px #7f8a91;">Maximal bits/s</span>
<span class="t" style="left:337.90px;top:352.00px;font-size:7.00px;color:#7f8a91;font-weight:bold;transform-origin:0 50%;transform:scaleX(0.8245);-webkit-text-stroke:0.18px #7f8a91;">Bits per second</span>
<span class="t" style="left:405.20px;top:352.00px;font-size:7.00px;color:#7f8a91;font-weight:bold;transform-origin:0 50%;transform:scaleX(0.8234);-webkit-text-stroke:0.18px #7f8a91;">Bytes</span>
<div class="a" style="left:439.00px;top:353.00px;width:2.40px;height:6.00px;background:#8e2f1e;"></div>
<span class="t" style="left:443.00px;top:352.00px;font-size:7.00px;color:#7f8a91;font-weight:bold;transform-origin:0 50%;transform:scaleX(0.8365);-webkit-text-stroke:0.18px #7f8a91;">AVG Jitter</span>
<div class="a" style="left:488.70px;top:353.00px;width:2.40px;height:6.00px;background:#7fdc52;"></div>
<span class="t" style="left:493.10px;top:352.00px;font-size:7.00px;color:#7f8a91;font-weight:bold;transform-origin:0 50%;transform:scaleX(0.8211);-webkit-text-stroke:0.18px #7f8a91;">AVG RTT</span>
<div class="a" style="left:535.40px;top:353.00px;width:2.60px;height:6.00px;background:#111111;"></div>
<span class="t" style="left:539.60px;top:352.00px;font-size:7.00px;color:#7f8a91;font-weight:bold;transform-origin:0 50%;transform:scaleX(0.7910);-webkit-text-stroke:0.18px #7f8a91;">AVG SRT</span>
<div class="a" style="left:11.00px;top:362.20px;width:559.00px;height:17.60px;background:#ffffff;"></div>
<div class="a" style="left:11.00px;top:379.80px;width:559.00px;height:19.40px;background:#f6f7f8;"></div>
<div class="a" style="left:15.10px;top:367.60px;width:9.80px;height:7.80px;background:#a5672f;border-radius:2.4px"></div>
<span class="t" style="left:18.39px;top:370.00px;font-size:5.80px;color:#ffffff;font-weight:bold;">1</span>
<span class="t" style="left:34.60px;top:369.00px;font-size:7.10px;color:#101418;transform-origin:0 50%;transform:scaleX(0.8994);-webkit-text-stroke:0.12px #101418;">SupportApp: Client Side Traffic</span>
<span class="t" style="left:295.60px;top:369.00px;font-size:7.10px;color:#101418;transform-origin:0 50%;transform:scaleX(0.9076);-webkit-text-stroke:0.12px #101418;">70.0 M</span>
<span class="t" style="left:365.00px;top:369.00px;font-size:7.10px;color:#101418;transform-origin:0 50%;transform:scaleX(0.9123);-webkit-text-stroke:0.12px #101418;">9.2 M</span>
<span class="t" style="left:393.10px;top:369.00px;font-size:7.10px;color:#101418;transform-origin:0 50%;transform:scaleX(0.8804);-webkit-text-stroke:0.12px #101418;">46.16 GiB</span>
<span class="t" style="left:444.80px;top:369.00px;font-size:7.10px;color:#101418;transform-origin:0 50%;transform:scaleX(0.9040);-webkit-text-stroke:0.12px #101418;">0.796 ms</span>
<span class="t" style="left:491.30px;top:369.00px;font-size:7.10px;color:#101418;transform-origin:0 50%;transform:scaleX(0.9108);-webkit-text-stroke:0.12px #101418;">4.054 ms</span>
<span class="t" style="left:537.50px;top:369.00px;font-size:7.10px;color:#101418;transform-origin:0 50%;transform:scaleX(0.9005);-webkit-text-stroke:0.12px #101418;">2.729 ms</span>
<div class="a" style="left:11.00px;top:399.00px;width:559.00px;height:12.00px;background:#ffffff;border-top:1px solid #d0d4d7"></div>
<span class="t" style="left:16.10px;top:403.00px;font-size:6.10px;color:#30373c;transform-origin:0 50%;transform:scaleX(0.9209);">2021-03-14 01:10 - 2021-03-14 14:10</span>
<svg class="a" style="left:564.5px;top:405.5px" width="4" height="4" viewBox="0 0 4 4"><path d="M3.5 0V3.5H0" fill="none" stroke="#7a8288" stroke-width="1"/></svg>
<div class="panel" style="left:576px;top:241px;width:317px;height:170px"></div>
<div class="a" style="left:576.00px;top:241.00px;width:317.00px;height:21.00px;background:#f7f8f9;border-bottom:1px solid #e6e8ea"></div>
<span class="t" style="left:582.40px;top:247.00px;font-size:7.70px;color:#2c3338;font-weight:bold;transform-origin:0 50%;transform:scaleX(0.8742);-webkit-text-stroke:0.15px #2c3338;">Client Side Retransmissions</span>
<span class="t" style="left:820.60px;top:247.00px;font-size:7.70px;color:#7d888f;transform-origin:0 50%;transform:scaleX(0.9430);-webkit-text-stroke:0.25px #7d888f;">Last 12 hours</span>
<svg class="a" style="left:867.00px;top:250.00px" width="4.80" height="2.80" viewBox="0 0 10 6"><path d="M0 0h10L5 6z" fill="#7d888f"/></svg>
<svg class="a" style="left:880.60px;top:247.20px" width="7.80" height="7.80" viewBox="0 0 20 20"><path fill="#67737b" fill-rule="evenodd" d="M8.3 0.5h3.4l0.5 2.6 1.5 0.6 2.2-1.5 2.4 2.4-1.5 2.2 0.6 1.5 2.6 0.5v3.4l-2.6 0.5-0.6 1.5 1.5 2.2-2.4 2.4-2.2-1.5-1.5 0.6-0.5 2.6H8.3l-0.5-2.6-1.5-0.6-2.2 1.5-2.4-2.4 1.5-2.2-0.6-1.5L0 11.7V8.3l2.6-0.5 0.6-1.5-1.5-2.2 2.4-2.4 2.2 1.5 1.5-0.6zM10 6.6a3.4 3.4 0 1 0 0 6.8 3.4 3.4 0 0 0 0-6.8z"/></svg>
<div class="a" style="left:702.9px;top:274.9px;width:3.800px;height:3.800px;border-radius:50%;background:#3e9c50"></div>
<span class="t" style="left:711.40px;top:271.00px;font-size:11.70px;color:#2b3940;font-weight:bold;transform-origin:0 50%;transform:scaleX(1.0367);">99.947</span>
<span class="t" style="left:749.40px;top:271.00px;font-size:11.70px;color:#7f8b93;transform-origin:0 50%;transform:scaleX(0.7594);">%</span>
<span class="t" style="left:696.20px;top:288.00px;font-size:7.60px;color:#3e464b;transform-origin:0 50%;transform:scaleX(0.9374);-webkit-text-stroke:0.12px #3e464b;">Retransmission Index</span>
<div class="a" style="left:884.20px;top:262.00px;width:8.80px;height:137.60px;background:#f1f1f1;"></div>
<div class="a" style="left:884.20px;top:270.40px;width:8.80px;height:100.40px;background:#cacaca;"></div>
<div class="a" style="left:884.20px;top:270.40px;width:8.80px;height:0.70px;background:#a9a9a9;"></div>
<svg class="a" style="left:886.1px;top:265.2px" width="5" height="3" viewBox="0 0 5 3"><path d="M0.6 2.5L2.5 0.7L4.4 2.5" fill="none" stroke="#3c3c3c" stroke-width="1"/></svg>
<svg class="a" style="left:886.1px;top:393.4px" width="5" height="3" viewBox="0 0 5 3"><path d="M0.6 0.5L2.5 2.3L4.4 0.5" fill="none" stroke="#3c3c3c" stroke-width="1"/></svg>
<span class="t" style="left:584.10px;top:304.00px;font-size:5.40px;color:#70787e;transform-origin:0 50%;transform:scaleX(0.7047);">0%</span>
<span class="t" style="left:653.10px;top:304.00px;font-size:5.40px;color:#70787e;transform-origin:0 50%;transform:scaleX(0.7309);">90%</span>
<span class="t" style="left:726.20px;top:304.00px;font-size:5.40px;color:#70787e;transform-origin:0 50%;transform:scaleX(0.7217);">99%</span>
<span class="t" style="left:797.50px;top:304.00px;font-size:5.40px;color:#70787e;transform-origin:0 50%;transform:scaleX(0.7641);">99.9%</span>
<span class="t" style="left:865.90px;top:304.00px;font-size:5.40px;color:#70787e;transform-origin:0 50%;transform:scaleX(0.7747);">100%</span>
<div class="a" style="left:584.10px;top:310.80px;width:292.50px;height:10.20px;background:#e3e6e9;"></div>
<div class="a" style="left:584.10px;top:310.80px;width:238.60px;height:10.20px;background:#3e9c46;"></div>
<div class="a" style="left:822.60px;top:308.40px;width:1.30px;height:15.20px;background:#111111;"></div>
<span class="t" style="left:584.10px;top:327.00px;font-size:5.80px;color:#15191c;transform-origin:0 50%;transform:scaleX(0.9141);">Poor</span>
<span class="t" style="left:856.20px;top:327.00px;font-size:5.80px;color:#15191c;transform-origin:0 50%;transform:scaleX(0.8838);">Excellent</span>
<span class="t" style="left:659.10px;top:347.00px;font-size:7.40px;color:#4a5257;transform-origin:0 50%;transform:scaleX(0.8786);-webkit-text-stroke:0.12px #4a5257;">AVG RTR</span>
<span class="t" style="left:771.90px;top:347.00px;font-size:7.40px;color:#4a5257;transform-origin:0 50%;transform:scaleX(0.9135);-webkit-text-stroke:0.12px #4a5257;">MAX RTR</span>
<span class="t" style="left:668.00px;top:363.00px;font-size:8.80px;color:#2b3338;font-weight:bold;transform-origin:0 50%;transform:scaleX(0.8828);">1.1</span>
<span class="t" style="left:781.40px;top:363.00px;font-size:8.80px;color:#2b3338;font-weight:bold;transform-origin:0 50%;transform:scaleX(0.9564);">1.8</span>
<span class="t" style="left:659.10px;top:389.00px;font-size:7.40px;color:#4a5257;transform-origin:0 50%;transform:scaleX(0.8873);-webkit-text-stroke:0.12px #4a5257;">MAX RTT</span>
<span class="t" style="left:771.30px;top:389.00px;font-size:7.40px;color:#4a5257;transform-origin:0 50%;transform:scaleX(0.9171);-webkit-text-stroke:0.12px #4a5257;">MAX Jitter</span>
<div class="a" style="left:576.00px;top:399.00px;width:317.00px;height:12.00px;background:#ffffff;border-top:1px solid #d0d4d7"></div>
<span class="t" style="left:581.10px;top:403.00px;font-size:6.10px;color:#30373c;transform-origin:0 50%;transform:scaleX(0.9209);">2021-03-14 01:10 - 2021-03-14 14:10</span>
<svg class="a" style="left:887.5px;top:405.5px" width="4" height="4" viewBox="0 0 4 4"><path d="M3.5 0V3.5H0" fill="none" stroke="#7a8288" stroke-width="1"/></svg>
<div class="panel" style="left:11px;top:417px;width:559px;height:60px"></div>
<div class="a" style="left:11.00px;top:417.00px;width:559.00px;height:21.00px;background:#f7f8f9;border-bottom:1px solid #e6e8ea"></div>
<span class="t" style="left:17.40px;top:424.00px;font-size:7.70px;color:#2c3338;font-weight:bold;transform-origin:0 50%;transform:scaleX(0.8885);-webkit-text-stroke:0.15px #2c3338;">Server Side Traffic Structure</span>
<span class="t" style="left:497.60px;top:424.00px;font-size:7.70px;color:#7d888f;transform-origin:0 50%;transform:scaleX(0.9430);-webkit-text-stroke:0.25px #7d888f;">Last 12 hours</span>
<svg class="a" style="left:544.00px;top:426.00px" width="4.80" height="2.80" viewBox="0 0 10 6"><path d="M0 0h10L5 6z" fill="#7d888f"/></svg>
<svg class="a" style="left:557.60px;top:423.20px" width="7.80" height="7.80" viewBox="0 0 20 20"><path fill="#67737b" fill-rule="evenodd" d="M8.3 0.5h3.4l0.5 2.6 1.5 0.6 2.2-1.5 2.4 2.4-1.5 2.2 0.6 1.5 2.6 0.5v3.4l-2.6 0.5-0.6 1.5 1.5 2.2-2.4 2.4-2.2-1.5-1.5 0.6-0.5 2.6H8.3l-0.5-2.6-1.5-0.6-2.2 1.5-2.4-2.4 1.5-2.2-0.6-1.5L0 11.7V8.3l2.6-0.5 0.6-1.5-1.5-2.2 2.4-2.4 2.2 1.5 1.5-0.6zM10 6.6a3.4 3.4 0 1 0 0 6.8 3.4 3.4 0 0 0 0-6.8z"/></svg>
<svg class="a" style="left:11.00px;top:438.00px" width="559" height="80" viewBox="11.00 438.00 559 80">
<rect x="80.60" y="447.40" width="1.00" height="58.10" fill="#ebedee"/>
<rect x="80.70" y="505.50" width="0.80" height="2.60" fill="#adb1b5"/>
<rect x="121.05" y="447.40" width="1.00" height="58.10" fill="#ebedee"/>
<rect x="121.15" y="505.50" width="0.80" height="2.60" fill="#adb1b5"/>
<rect x="161.50" y="447.40" width="1.00" height="58.10" fill="#ebedee"/>
<rect x="161.60" y="505.50" width="0.80" height="2.60" fill="#adb1b5"/>
<rect x="201.95" y="447.40" width="1.00" height="58.10" fill="#ebedee"/>
<rect x="202.05" y="505.50" width="0.80" height="2.60" fill="#adb1b5"/>
<rect x="242.40" y="447.40" width="1.00" height="58.10" fill="#ebedee"/>
<rect x="242.50" y="505.50" width="0.80" height="2.60" fill="#adb1b5"/>
<rect x="282.85" y="447.40" width="1.00" height="58.10" fill="#ebedee"/>
<rect x="282.95" y="505.50" width="0.80" height="2.60" fill="#adb1b5"/>
<rect x="323.30" y="447.40" width="1.00" height="58.10" fill="#ebedee"/>
<rect x="323.40" y="505.50" width="0.80" height="2.60" fill="#adb1b5"/>
<rect x="363.75" y="447.40" width="1.00" height="58.10" fill="#ebedee"/>
<rect x="363.85" y="505.50" width="0.80" height="2.60" fill="#adb1b5"/>
<rect x="404.20" y="447.40" width="1.00" height="58.10" fill="#ebedee"/>
<rect x="404.30" y="505.50" width="0.80" height="2.60" fill="#adb1b5"/>
<rect x="444.65" y="447.40" width="1.00" height="58.10" fill="#ebedee"/>
<rect x="444.75" y="505.50" width="0.80" height="2.60" fill="#adb1b5"/>
<rect x="485.10" y="447.40" width="1.00" height="58.10" fill="#ebedee"/>
<rect x="485.20" y="505.50" width="0.80" height="2.60" fill="#adb1b5"/>
<rect x="46.70" y="470.40" width="487.10" height="1.00" fill="#dfe2e4"/>
<polygon points="438.2,480.0 438.2,458.6 441.3,458.6 441.3,460.2 465.2,460.2 465.2,461.2 475.8,461.2 475.8,460.6 482.1,460.6 482.1,480.0 502.5,480.0 502.5,460.6 506.0,460.6 506.0,460.2 509.0,460.2 509.0,461.6 512.4,461.6 512.4,469.0 516.2,469.0 516.2,457.8 532.6,457.8 532.6,480.0" fill="#0b369b" />
<polyline points="438.4,480.0 438.4,480.0 438.4,461.6 444.0,461.6 444.0,459.6 451.0,459.6 451.0,460.4 465.2,460.4 465.2,456.9 475.8,456.9 475.8,461.6 482.1,461.6 482.1,463.2 485.6,463.2 485.6,480.0 485.6,480.0 495.5,480.0 495.5,480.0 495.5,463.7 502.5,463.7 502.5,458.0 506.0,458.0 506.0,459.7 512.4,459.7 512.4,468.9 516.2,468.9 516.2,470.3 532.6,470.3" fill="none" stroke="#e9c9ae" stroke-width="1.9" stroke-linejoin="miter" opacity="0.55"/>
<polyline points="438.4,480.0 438.4,480.0 438.4,461.6 444.0,461.6 444.0,459.6 451.0,459.6 451.0,460.4 465.2,460.4 465.2,456.9 475.8,456.9 475.8,461.6 482.1,461.6 482.1,463.2 485.6,463.2 485.6,480.0 485.6,480.0 495.5,480.0 495.5,480.0 495.5,463.7 502.5,463.7 502.5,458.0 506.0,458.0 506.0,459.7 512.4,459.7 512.4,468.9 516.2,468.9 516.2,470.3 532.6,470.3" fill="none" stroke="#6a3018" stroke-width="1.15" stroke-linejoin="miter" />
<rect x="46.20" y="447.40" width="1.00" height="58.10" fill="#adb1b5"/>
<rect x="533.30" y="447.40" width="1.00" height="58.10" fill="#adb1b5"/>
<rect x="44.10" y="470.40" width="2.60" height="1.00" fill="#adb1b5"/>
<rect x="44.10" y="505.00" width="2.60" height="1.00" fill="#adb1b5"/>
</svg>
<span class="t" style="left:31.20px;top:469.00px;font-size:5.90px;color:#666c71;transform-origin:0 50%;transform:scaleX(0.8712);-webkit-text-stroke:0.1px #666c71;">50M</span>
<span class="t" style="left:34.20px;top:504.00px;font-size:5.90px;color:#666c71;transform-origin:0 50%;transform:scaleX(0.8540);-webkit-text-stroke:0.1px #666c71;">0M</span>
<span class="t" style="left:11.30px;top:473.70px;font-size:6.60px;color:#666c71;transform-origin:50% 50%;transform:rotate(-90deg);-webkit-text-stroke:0.1px #666c71;">bits/s</span>
<span class="t" style="left:551.12px;top:473.10px;font-size:6.60px;color:#666c71;transform-origin:50% 50%;transform:rotate(90deg);-webkit-text-stroke:0.1px #666c71;">time(s)</span>
<span class="t" style="left:74.25px;top:512.00px;font-size:5.90px;color:#666c71;transform-origin:0 50%;transform:scaleX(0.9279);-webkit-text-stroke:0.1px #666c71;">03:00</span>
<span class="t" style="left:114.70px;top:512.00px;font-size:5.90px;color:#666c71;transform-origin:0 50%;transform:scaleX(0.9279);-webkit-text-stroke:0.1px #666c71;">04:00</span>
<span class="t" style="left:155.15px;top:512.00px;font-size:5.90px;color:#666c71;transform-origin:0 50%;transform:scaleX(0.9279);-webkit-text-stroke:0.1px #666c71;">05:00</span>
<span class="t" style="left:195.60px;top:512.00px;font-size:5.90px;color:#666c71;transform-origin:0 50%;transform:scaleX(0.9279);-webkit-text-stroke:0.1px #666c71;">06:00</span>
<span class="t" style="left:236.05px;top:512.00px;font-size:5.90px;color:#666c71;transform-origin:0 50%;transform:scaleX(0.9279);-webkit-text-stroke:0.1px #666c71;">07:00</span>
<span class="t" style="left:276.50px;top:512.00px;font-size:5.90px;color:#666c71;transform-origin:0 50%;transform:scaleX(0.9279);-webkit-text-stroke:0.1px #666c71;">08:00</span>
<span class="t" style="left:316.95px;top:512.00px;font-size:5.90px;color:#666c71;transform-origin:0 50%;transform:scaleX(0.9279);-webkit-text-stroke:0.1px #666c71;">09:00</span>
<span class="t" style="left:357.40px;top:512.00px;font-size:5.90px;color:#666c71;transform-origin:0 50%;transform:scaleX(0.9279);-webkit-text-stroke:0.1px #666c71;">10:00</span>
<span class="t" style="left:397.85px;top:512.00px;font-size:5.90px;color:#666c71;transform-origin:0 50%;transform:scaleX(0.9562);-webkit-text-stroke:0.1px #666c71;">11:00</span>
<span class="t" style="left:438.30px;top:512.00px;font-size:5.90px;color:#666c71;transform-origin:0 50%;transform:scaleX(0.9279);-webkit-text-stroke:0.1px #666c71;">12:00</span>
<span class="t" style="left:478.75px;top:512.00px;font-size:5.90px;color:#666c71;transform-origin:0 50%;transform:scaleX(0.9279);-webkit-text-stroke:0.1px #666c71;">13:00</span>
<span class="t" style="left:519.20px;top:512.00px;font-size:5.90px;color:#666c71;transform-origin:0 50%;transform:scaleX(0.9279);-webkit-text-stroke:0.1px #666c71;">14:00</span>
<div class="a" style="left:533.80px;top:460.00px;width:2.80px;height:0.80px;background:#adb1b5;"></div>
<span class="t" style="left:538.40px;top:459.00px;font-size:5.90px;color:#666c71;transform-origin:0 50%;transform:scaleX(0.8433);-webkit-text-stroke:0.1px #666c71;">4ms</span>
<div class="panel" style="left:576px;top:417px;width:317px;height:60px"></div>
<div class="a" style="left:576.00px;top:417.00px;width:317.00px;height:21.00px;background:#f7f8f9;border-bottom:1px solid #e6e8ea"></div>
<span class="t" style="left:582.40px;top:424.00px;font-size:7.70px;color:#2c3338;font-weight:bold;transform-origin:0 50%;transform:scaleX(0.8800);-webkit-text-stroke:0.15px #2c3338;">RS Retransmissions (All Real Servers)</span>
<span class="t" style="left:820.60px;top:424.00px;font-size:7.70px;color:#7d888f;transform-origin:0 50%;transform:scaleX(0.9430);-webkit-text-stroke:0.25px #7d888f;">Last 12 hours</span>
<svg class="a" style="left:867.00px;top:426.00px" width="4.80" height="2.80" viewBox="0 0 10 6"><path d="M0 0h10L5 6z" fill="#7d888f"/></svg>
<svg class="a" style="left:880.60px;top:423.20px" width="7.80" height="7.80" viewBox="0 0 20 20"><path fill="#67737b" fill-rule="evenodd" d="M8.3 0.5h3.4l0.5 2.6 1.5 0.6 2.2-1.5 2.4 2.4-1.5 2.2 0.6 1.5 2.6 0.5v3.4l-2.6 0.5-0.6 1.5 1.5 2.2-2.4 2.4-2.2-1.5-1.5 0.6-0.5 2.6H8.3l-0.5-2.6-1.5-0.6-2.2 1.5-2.4-2.4 1.5-2.2-0.6-1.5L0 11.7V8.3l2.6-0.5 0.6-1.5-1.5-2.2 2.4-2.4 2.2 1.5 1.5-0.6zM10 6.6a3.4 3.4 0 1 0 0 6.8 3.4 3.4 0 0 0 0-6.8z"/></svg>
<div class="a" style="left:702.9px;top:451.1px;width:3.800px;height:3.800px;border-radius:50%;background:#f0c02c"></div>
<span class="t" style="left:711.40px;top:447.00px;font-size:11.70px;color:#2b3940;font-weight:bold;transform-origin:0 50%;transform:scaleX(1.0367);">99.856</span>
<span class="t" style="left:749.40px;top:447.00px;font-size:11.70px;color:#7f8b93;transform-origin:0 50%;transform:scaleX(0.7594);">%</span>
<span class="t" style="left:696.20px;top:465.00px;font-size:7.60px;color:#3e464b;transform-origin:0 50%;transform:scaleX(0.9374);-webkit-text-stroke:0.12px #3e464b;">Retransmission Index</span>
<div class="a" style="left:884.20px;top:438.20px;width:8.80px;height:137.60px;background:#f1f1f1;"></div>
<div class="a" style="left:884.20px;top:446.60px;width:8.80px;height:100.40px;background:#cacaca;"></div>
<div class="a" style="left:884.20px;top:446.60px;width:8.80px;height:0.70px;background:#a9a9a9;"></div>
<svg class="a" style="left:886.1px;top:441.4px" width="5" height="3" viewBox="0 0 5 3"><path d="M0.6 2.5L2.5 0.7L4.4 2.5" fill="none" stroke="#3c3c3c" stroke-width="1"/></svg>
<svg class="a" style="left:886.1px;top:569.6px" width="5" height="3" viewBox="0 0 5 3"><path d="M0.6 0.5L2.5 2.3L4.4 0.5" fill="none" stroke="#3c3c3c" stroke-width="1"/></svg>
</body>
</html>
